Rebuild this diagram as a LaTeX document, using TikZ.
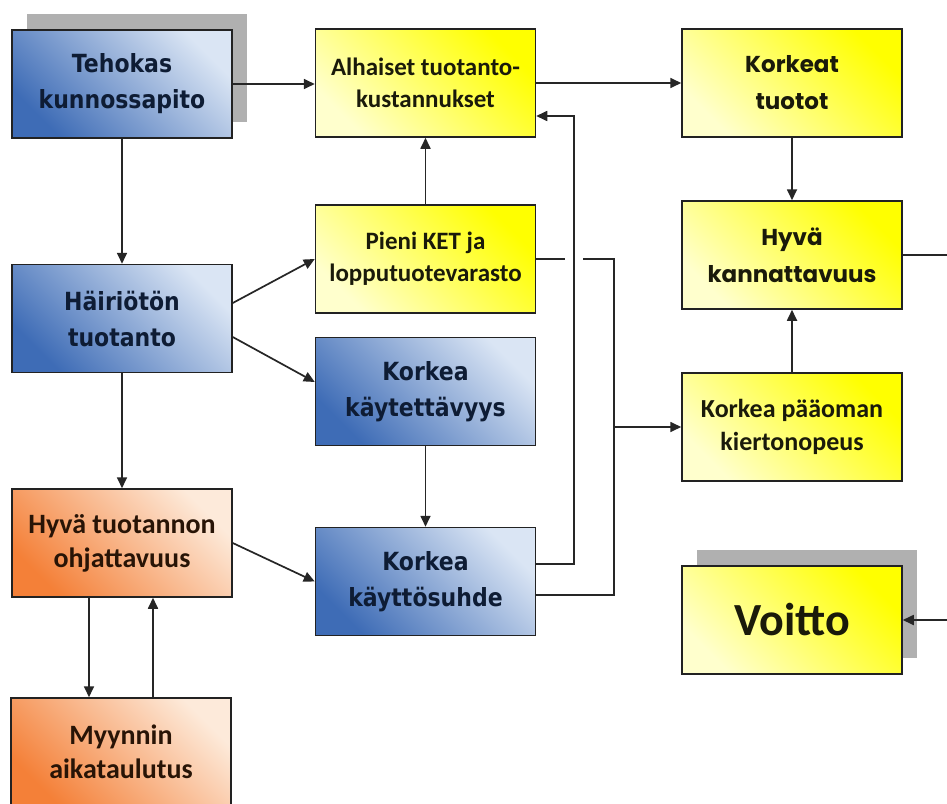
\documentclass[tikz,border=0pt]{standalone}
\usepackage{fontspec}
\usetikzlibrary{arrows.meta,shadows}
\newfontfamily\tahfont{DejaVu Sans}[FakeStretch=0.88]
\newfontfamily\calfont{Carlito}
\newfontfamily\geofont{Poppins}
\definecolor{bluedark}{RGB}{62,108,182}
\definecolor{bluelight}{RGB}{218,229,244}
\definecolor{yelstrong}{RGB}{255,255,0}
\definecolor{yelpale}{RGB}{255,255,205}
\definecolor{orgstrong}{RGB}{244,128,56}
\definecolor{orgpale}{RGB}{253,234,218}
\definecolor{shadowgray}{RGB}{176,176,176}
\definecolor{edge}{RGB}{34,34,34}
\definecolor{wire}{RGB}{38,38,38}
\definecolor{navytext}{RGB}{14,28,52}
\definecolor{inktext}{RGB}{26,26,10}
\definecolor{browntext}{RGB}{40,20,6}

\begin{document}
\begin{tikzpicture}[x=1pt,y=-1pt,
  box/.style={draw=edge, line width=1.5pt, minimum width=220pt,
    minimum height=108pt, align=center, inner sep=0pt},
  bluebox/.style={box, top color=bluelight, bottom color=bluedark,
    shading angle=-45, text=navytext,
    font=\tahfont\bfseries\fontsize{25pt}{36pt}\selectfont},
  yelbox/.style={box, top color=yelstrong, bottom color=yelpale,
    shading angle=-45, text=inktext,
    font=\calfont\bfseries\fontsize{25pt}{32pt}\selectfont},
  geobox/.style={yelbox, font=\geofont\bfseries\fontsize{23pt}{37pt}\selectfont},
  orgbox/.style={box, top color=orgpale, bottom color=orgstrong,
    shading angle=-45, text=browntext,
    font=\calfont\bfseries\fontsize{28pt}{34pt}\selectfont},
  raised/.style={general shadow={fill=shadowgray, shadow xshift=15pt, shadow yshift=16pt}},
  wire/.style={draw=wire, line width=1.7pt},
  arrow/.style={wire, -{Triangle[length=11pt,width=10pt]}}]

\fill[white] (0,0) rectangle (947,803);
\useasboundingbox (0,0) rectangle (947,803);
\clip (0,0) rectangle (947,803);

% left column
\node[bluebox, raised] (tk) at (122,84) {Tehokas\\kunnossapito};
\node[bluebox] (hh) at (122,318.5) {Häiriötön\\tuotanto};
\node[orgbox] (ht) at (122,543) {Hyvä tuotannon\\ohjattavuus};
\node[orgbox] (my) at (121,752) {Myynnin\\aikataulutus};

% middle column
\node[yelbox] (alh) at (425.5,83) {Alhaiset tuotanto-\\kustannukset};
\node[yelbox] (pk) at (425.5,259) {Pieni KET ja\\lopputuotevarasto};
\node[bluebox] (kk) at (425.5,391.5) {Korkea\\käytettävyys};
\node[bluebox] (ks) at (425.5,581.5) {Korkea\\käyttösuhde};

% right column
\node[geobox] (kt) at (792,83) {Korkeat\\tuotot};
\node[geobox] (hk) at (792,255) {Hyvä\\kannattavuus};
\node[yelbox, font=\calfont\bfseries\fontsize{26pt}{33pt}\selectfont] (kp) at (792,427) {Korkea pääoman\\kiertonopeus};
\node[yelbox, raised, font=\calfont\bfseries\fontsize{46pt}{50pt}\selectfont] (vo) at (792,620) {Voitto};

% bus lines and picture edge
\coordinate (busA) at (574,0);
\coordinate (busB) at (614,0);
\coordinate (gapL) at (565,0);
\coordinate (gapR) at (583,0);
\coordinate (edgeR) at (947,0);

% connectors
\draw[arrow] (tk.east) -- (tk.east -| alh.west);
\draw[arrow] (alh.east) -- (kt.west);
\draw[arrow] (tk.south) -- (hh.north);
\draw[arrow] ([yshift=15.5pt]hh.east) -- (pk.west);
\draw[arrow] ([yshift=-18.5pt]hh.east) -- ([yshift=9.5pt]kk.west);
\draw[arrow] (hh.south) -- (ht.north);
\draw[arrow] (ht.east) -- (ks.west);
\draw[arrow] ([xshift=-33pt]ht.south) -- ([xshift=-33pt]ht.south |- my.north);
\draw[arrow] ([xshift=31pt]ht.south |- my.north) -- ([xshift=31pt]ht.south);
\draw[arrow] (pk.north) -- (alh.south);
\draw[arrow] (kk.south) -- (ks.north);
\draw[arrow] ([yshift=17.5pt]ks.east) -- ([yshift=17.5pt]ks.east -| busA)
  |- ([yshift=-33pt]alh.east);
\draw[wire] (pk.east) -- (pk.east -| gapL);
\draw[wire] (pk.east -| gapR) -- (pk.east -| busB)
  -- ([yshift=-13.5pt]ks.east -| busB) -- ([yshift=-13.5pt]ks.east);
\draw[arrow] (kp.west -| busB) -- (kp.west);
\draw[arrow] (kt.south) -- (hk.north);
\draw[arrow] (kp.north) -- (hk.south);
\draw[wire] (hk.east) -- (hk.east -| edgeR);
\draw[arrow] (vo.east -| edgeR) -- (vo.east);
\end{tikzpicture}
\end{document}
